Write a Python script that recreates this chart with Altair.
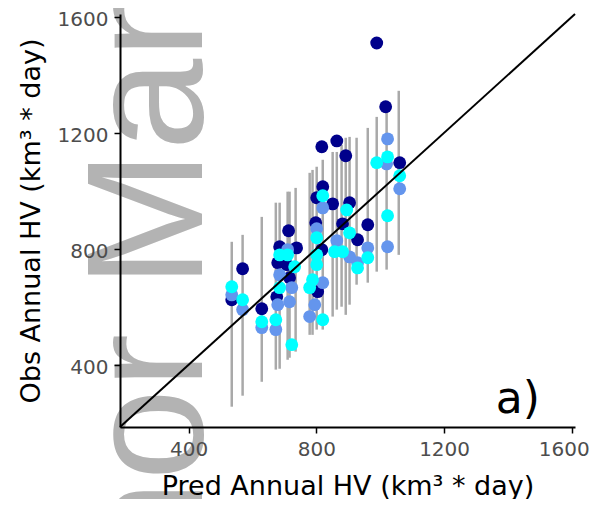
import altair as alt
import pandas as pd

# ---- data ----
navy_pred = [535, 569, 629, 676, 679, 685, 713, 707, 716, 738, 798, 817, 804, 817, 864, 892, 820, 801, 851, 904, 882, 961, 929, 989, 1017, 1061]
navy_obs = [624, 731, 593, 634, 752, 807, 862, 745, 700, 803, 890, 797, 652, 1152, 1172, 1121, 1014, 976, 955, 959, 886, 883, 831, 1510, 1290, 1097]

corn_pred = [535, 569, 629, 673, 679, 685, 710, 723, 716, 801, 820, 795, 779, 820, 864, 961, 929, 904, 1023, 1020, 1061, 1023]
corn_obs = [641, 590, 528, 521, 607, 710, 797, 666, 617, 869, 683, 607, 566, 941, 828, 803, 752, 772, 1179, 1093, 1007, 807]

cyan_pred = [535, 569, 629, 673, 685, 685, 710, 723, 732, 801, 801, 801, 788, 779, 820, 820, 895, 904, 961, 929, 857, 882, 1023, 989, 1061, 1023]
cyan_obs = [669, 624, 548, 555, 666, 779, 779, 469, 738, 838, 779, 745, 693, 666, 555, 983, 934, 855, 769, 734, 790, 790, 1117, 1097, 1052, 914]

bar_pred = [535, 569, 629, 673, 685, 710, 716, 735, 779, 788, 801, 820, 851, 864, 879, 892, 904, 926, 961, 989, 1020, 1058]
bar_lo = [255, 293, 341, 383, 386, 417, 424, 445, 503, 503, 521, 521, 566, 590, 600, 572, 607, 676, 683, 721, 728, 779]
bar_hi = [824, 848, 910, 959, 959, 997, 997, 1010, 1062, 1072, 1083, 1107, 1134, 1134, 1159, 1183, 1186, 1183, 1217, 1255, 1297, 1345]

axis_ticks = [400, 800, 1200, 1600]
x_title = "Pred Annual HV (km³ * day)"
y_title = "Obs Annual HV (km³ * day)"
panel_label = "a)"
watermark = "Author Manuscript"

# ---- tables ----
rows = []
for rank, (name, px, ob) in enumerate([("navy", navy_pred, navy_obs),
                                       ("cornflower", corn_pred, corn_obs),
                                       ("cyan", cyan_pred, cyan_obs)]):
    for p, o in zip(px, ob):
        rows.append({"pred": p, "obs": o, "src": name, "rank": rank})
points = pd.DataFrame(rows)
bars = pd.DataFrame({"pred": bar_pred, "lo": bar_lo, "hi": bar_hi})
diag = pd.DataFrame({"a": [185, 1610], "b": [185, 1610]})
lab = pd.DataFrame({"x": [1500], "y": [232], "t": [panel_label]})
wm = pd.DataFrame({"t": [watermark]})

xs = alt.Scale(domain=[185, 1610], nice=False, zero=False)
ys = alt.Scale(domain=[185, 1610], nice=False, zero=False)

x_axis = alt.Axis(values=axis_ticks, format="d", title=x_title, titlePadding=14,
                  labelPadding=6, zindex=1,
                  labelOffset={"condition": {"test": "datum.value == 1600", "value": -8}, "value": 0})
y_axis = alt.Axis(values=axis_ticks, format="d", title=y_title, titlePadding=12,
                  labelPadding=6, labelOffset=3, zindex=1)

wm_layer = alt.Chart(wm).mark_text(
    angle=270, align="left", baseline="alphabetic",
    font="Liberation Sans", fontSize=165, color="#b3b3b3"
).encode(x=alt.value(82), y=alt.value(806), text="t:N")

bar_layer = alt.Chart(bars).mark_rule(color="#a9a9a9", strokeWidth=2.5).encode(
    x=alt.X("pred:Q", scale=xs, axis=x_axis),
    y=alt.Y("lo:Q", scale=ys, axis=y_axis),
    y2="hi:Q",
)

pt_layer = alt.Chart(points).mark_circle(size=165, opacity=1).encode(
    x=alt.X("pred:Q", scale=xs),
    y=alt.Y("obs:Q", scale=ys),
    color=alt.Color("src:N", scale=alt.Scale(domain=["navy", "cornflower", "cyan"],
                                              range=["#00008b", "#6495ed", "#00ffff"]), legend=None),
    order=alt.Order("rank:Q"),
)

line_layer = alt.Chart(diag).mark_line(color="black", strokeWidth=2).encode(
    x=alt.X("a:Q", scale=xs), y=alt.Y("b:Q", scale=ys)
)

lab_layer = alt.Chart(lab).mark_text(
    align="right", baseline="alphabetic", font="DejaVu Sans", fontSize=44, color="black"
).encode(x=alt.X("x:Q", scale=xs), y=alt.Y("y:Q", scale=ys), text="t:N")

chart = alt.layer(wm_layer, bar_layer, pt_layer, line_layer, lab_layer).properties(
    width=455, height=413,
    autosize=alt.AutoSizeParams(type="none"),
    padding={"left": 112, "top": 6, "right": 15, "bottom": 72},
).configure_axis(
    grid=False, domainColor="black", domainWidth=2, tickColor="black", tickWidth=1.5,
    tickSize=6, labelFont="DejaVu Sans", labelFontSize=20, labelColor="#4d4d4d",
    titleFont="DejaVu Sans", titleFontSize=27, titleColor="black", titleFontWeight="normal",
).configure_view(stroke=None)

chart.save("out.html", embed_options={"renderer": "svg", "actions": False})
